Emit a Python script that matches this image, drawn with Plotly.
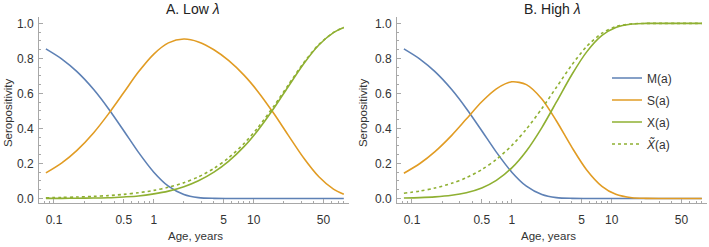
import plotly.graph_objects as go

# Ages (years)
ages = [0.083, 0.12, 0.17, 0.25, 0.35, 0.5, 0.7, 1, 1.4, 2, 2.8, 4, 5.6, 8, 11, 16, 22, 32, 45, 63, 80]

# Panel A: low lambda
M_low = [0.854, 0.796, 0.724, 0.622, 0.514, 0.387, 0.2645, 0.150, 0.070, 0.0224, 0.0049, 0.0005, 0, 0, 0, 0, 0, 0, 0, 0, 0]
S_low = [0.1457, 0.2034, 0.2748, 0.3756, 0.4816, 0.6048, 0.7215, 0.8245, 0.8883, 0.9104, 0.8939, 0.8491, 0.7881, 0.7041, 0.6114, 0.4834, 0.3646, 0.2279, 0.1237, 0.0531, 0.0239]
X_low = [0.0003, 0.0006, 0.0012, 0.0024, 0.0041, 0.0085, 0.014, 0.0259, 0.0418, 0.0672, 0.1012, 0.1504, 0.2119, 0.2959, 0.3886, 0.5166, 0.6354, 0.7721, 0.8763, 0.9469, 0.9761]
Xt_low = [0.0039, 0.0056, 0.0080, 0.0117, 0.0163, 0.0232, 0.0324, 0.0459, 0.0637, 0.0897, 0.1233, 0.1714, 0.2314, 0.3134, 0.4037, 0.5286, 0.6444, 0.7778, 0.8794, 0.9482, 0.9767]

# Panel B: high lambda
M_high = M_low
S_high = [0.1437, 0.1994, 0.2673, 0.3603, 0.4532, 0.5520, 0.6260, 0.6660, 0.6500, 0.5680, 0.4420, 0.2917, 0.1644, 0.0693, 0.0235, 0.0039, 0.0004, 0, 0, 0, 0]
X_high = [0.0022, 0.0045, 0.0087, 0.0178, 0.0325, 0.0599, 0.1029, 0.1742, 0.2710, 0.4047, 0.5509, 0.7078, 0.8356, 0.9307, 0.9765, 0.9961, 0.9996, 1.0, 1.0, 1.0, 1.0]
Xt_high = [0.0295, 0.0423, 0.0594, 0.0861, 0.1184, 0.1647, 0.2228, 0.3023, 0.3959, 0.5133, 0.6351, 0.7631, 0.8668, 0.9439, 0.9809, 0.9969, 0.9996, 1.0, 1.0, 1.0, 1.0]

x_tickvals = [0.1, 0.5, 1, 5, 10, 50]
x_ticktext = ["0.1", "0.5", "1", "5", "10", "50"]
y_tickvals = [0.0, 0.2, 0.4, 0.6, 0.8, 1.0]
y_ticktext = ["0.0", "0.2", "0.4", "0.6", "0.8", "1.0"]
x_minor = [0.08, 0.09, 0.2, 0.3, 0.4, 0.6, 0.7, 0.8, 0.9, 2, 3, 4, 6, 7, 8, 9, 20, 30, 40, 60, 70, 80, 90]
y_minor = [i * 0.05 for i in range(0, 21)]

names = ["M(a)", "S(a)", "X(a)", "<i>X̃</i>(a)"]
colors = ["#5E81B5", "#E19C24", "#8FB032", "#8FB032"]
dashes = ["solid", "solid", "solid", "3px,3px"]

fig = go.Figure()
panels = [("x", "y", [M_low, S_low, X_low, Xt_low], False),
          ("x2", "y2", [M_high, S_high, X_high, Xt_high], True)]
for xa, ya, series, show in panels:
    for i, vals in enumerate(series):
        fig.add_trace(go.Scatter(
            x=ages, y=vals, xaxis=xa, yaxis=ya, mode="lines",
            name=names[i], showlegend=show, legendgroup=str(i),
            line=dict(color=colors[i], width=1.6, dash=dashes[i], shape="spline", smoothing=0.8),
        ))

W, H = 709, 247
axis_style = dict(showgrid=False, zeroline=False, showline=True, linecolor="#a8a8a8", linewidth=1,
                  ticks="inside", ticklen=4, tickcolor="#a8a8a8",
                  tickfont=dict(family="Liberation Sans, Arial", size=12, color="#333"))

xr = [-1.15, 1.955]
yr = [-0.028, 1.037]
ydom = [1 - 205 / H, 1 - 17 / H]

fig.update_layout(
    width=W, height=H, margin=dict(l=0, r=0, t=0, b=0),
    paper_bgcolor="white", plot_bgcolor="white",
    xaxis=dict(type="log", range=xr, domain=[39 / W, 349 / W], anchor="y",
               tickvals=x_tickvals, ticktext=x_ticktext, ticklabelstandoff=5,
               minor=dict(tickvals=x_minor, ticks="inside", ticklen=2, tickcolor="#a8a8a8"), **axis_style),
    yaxis=dict(range=yr, domain=ydom, anchor="x", tickvals=y_tickvals, ticktext=y_ticktext, ticklabelstandoff=2,
               minor=dict(tickvals=y_minor, ticks="inside", ticklen=2, tickcolor="#a8a8a8"), **axis_style),
    xaxis2=dict(type="log", range=xr, domain=[397 / W, 707 / W], anchor="y2",
                tickvals=x_tickvals, ticktext=x_ticktext, ticklabelstandoff=5,
                minor=dict(tickvals=x_minor, ticks="inside", ticklen=2, tickcolor="#a8a8a8"), **axis_style),
    yaxis2=dict(range=yr, domain=ydom, anchor="x2", tickvals=y_tickvals, ticktext=y_ticktext, ticklabelstandoff=2,
                minor=dict(tickvals=y_minor, ticks="inside", ticklen=2, tickcolor="#a8a8a8"), **axis_style),
    legend=dict(x=607 / W, y=1 - 64 / H, xanchor="left", yanchor="top", bgcolor="rgba(0,0,0,0)",
                font=dict(family="Liberation Sans, Arial", size=12, color="#333"),
                tracegroupgap=3),
    showlegend=True,
)

font_t = dict(family="Liberation Sans, Arial", size=14, color="#222")
font_a = dict(family="Liberation Sans, Arial", size=11.5, color="#333")
ann = [
    dict(text="A. Low <i>λ</i>", x=193 / W, y=1 - 9 / H, font=font_t),
    dict(text="B. High <i>λ</i>", x=552 / W, y=1 - 9 / H, font=font_t),
    dict(text="Age, years", x=195 / W, y=1 - 238 / H, font=font_a),
    dict(text="Age, years", x=548 / W, y=1 - 238 / H, font=font_a),
    dict(text="Seropositivity", x=8 / W, y=1 - 114 / H, font=font_a, textangle=-90),
    dict(text="Seropositivity", x=363 / W, y=1 - 114 / H, font=font_a, textangle=-90),
]
for a in ann:
    fig.add_annotation(xref="paper", yref="paper", showarrow=False, xanchor="center", yanchor="middle", **a)

fig.write_html("out.html", config={"displayModeBar": False},
               post_script="document.body.style.margin='0';document.body.style.padding='0';")
